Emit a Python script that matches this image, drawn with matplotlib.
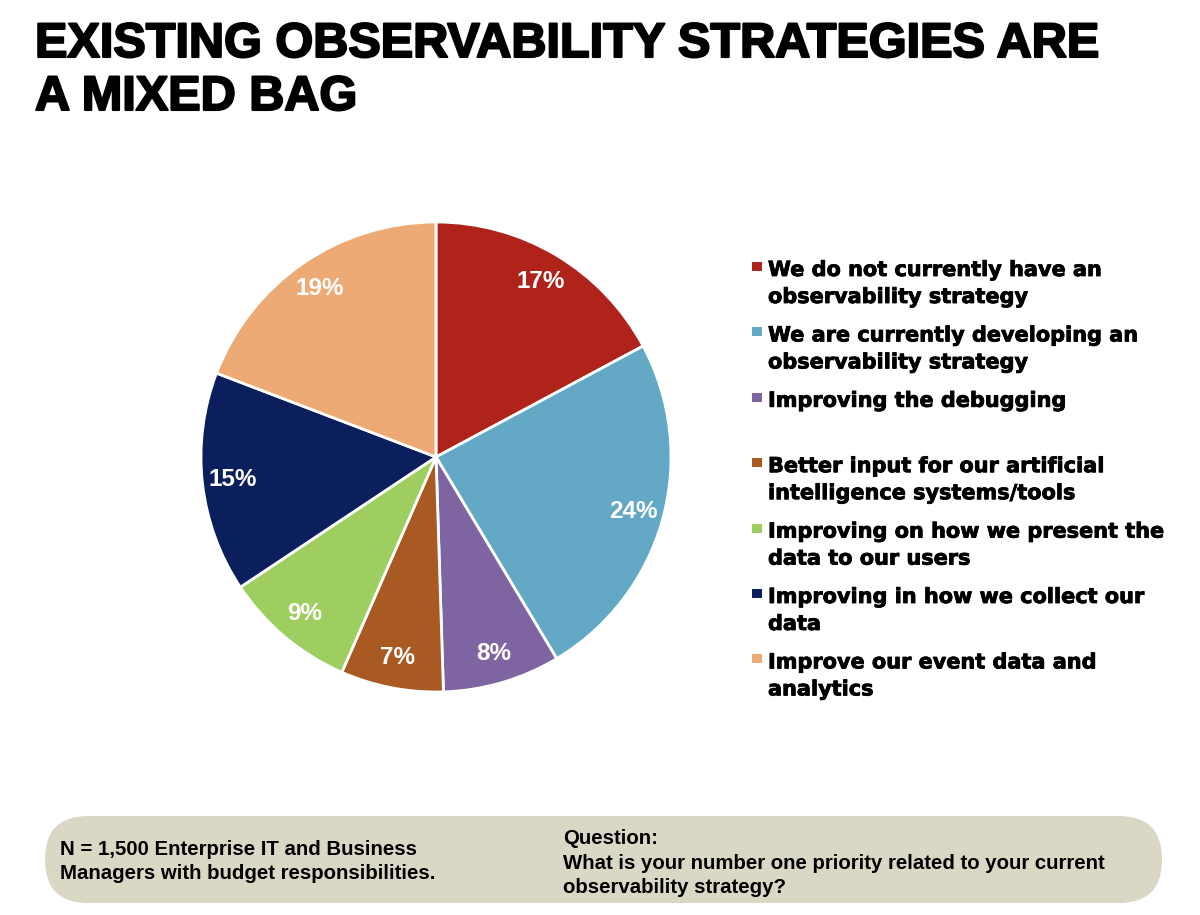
import matplotlib
matplotlib.use("Agg")
import matplotlib.pyplot as plt
from matplotlib.patches import FancyBboxPatch, Rectangle
import matplotlib.patheffects as pe

plt.rcParams["font.family"] = ["Liberation Sans", "DejaVu Sans"]

# 数据
categories = [
    "We do not currently have an\nobservability strategy",
    "We are currently developing an\nobservability strategy",
    "Improving the debugging",
    "Better input for our artificial\nintelligence systems/tools",
    "Improving on how we present the\ndata to our users",
    "Improving in how we collect our\ndata",
    "Improve our event data and\nanalytics",
]
values = [17, 24, 8, 7, 9, 15, 19]
colors = ["#B0231A", "#63A9C5", "#7E64A0", "#A85A22", "#9ECE5F", "#0B1F5C", "#EDAA75"]

title = "EXISTING OBSERVABILITY STRATEGIES ARE\nA MIXED BAG"
note_left = ["N = 1,500 Enterprise IT and Business",
             "Managers with budget responsibilities."]
note_right = ["Question:",
              "What is your number one priority related to your current",
              "observability strategy?"]

W, H = 1200, 915
fig = plt.figure(figsize=(W / 100, H / 100), dpi=100)
fig.patch.set_facecolor("white")


def fy(px):
    # 像素(从上往下) -> figure 坐标
    return 1 - px / H


# 标题
for i, line in enumerate(title.split("\n")):
    fig.text(35 / W, fy(57 + 53 * i), line, fontsize=35, fontweight="bold",
             color="black", va="baseline", ha="left",
             path_effects=[pe.withStroke(linewidth=1.5, foreground="black")])

# 饼图
cx, cy, r = 436, 457, 235
ax = fig.add_axes([(cx - r) / W, (H - cy - r) / H, 2 * r / W, 2 * r / H])
wedges, _, autotexts = ax.pie(
    values, colors=colors, startangle=90, counterclock=False,
    autopct=lambda p: f"{p:.0f}%", pctdistance=0.87,
    wedgeprops=dict(edgecolor="white", linewidth=2),
    textprops=dict(color="white", fontsize=17.5, fontweight="bold"),
)
ax.set_xlim(-1, 1)
ax.set_ylim(-1, 1)
ax.set_aspect("equal")
ax.axis("off")

# 图例（手动排版）
for i, (lab, col) in enumerate(zip(categories, colors)):
    base = 276 + 65.4 * i
    fig.add_artist(Rectangle((752 / W, fy(base - 5)), 10 / W, 9 / H,
                             transform=fig.transFigure, facecolor=col,
                             edgecolor="none"))
    for j, line in enumerate(lab.split("\n")):
        fig.text(768 / W, fy(base + 27 * j), line, fontsize=15,
                 fontweight="bold", family=["DejaVu Sans"],
                 va="baseline", ha="left", color="black",
                 path_effects=[pe.withStroke(linewidth=0.6, foreground="black")])

# 底部说明框
box = FancyBboxPatch((0.45, 0.12), 11.17, 0.87,
                     boxstyle="round,pad=0,rounding_size=0.43",
                     transform=fig.dpi_scale_trans,
                     facecolor="#DAD7C5", edgecolor="none")
fig.add_artist(box)

for j, line in enumerate(note_left):
    fig.text(60 / W, fy(855 + 24 * j), line, fontsize=14.7,
             fontweight="bold", va="baseline", ha="left", color="black")
for j, line in enumerate(note_right):
    fig.text(563 / W, fy(844 + 24.7 * j), line, fontsize=14.7,
             fontweight="bold", va="baseline", ha="left", color="black")

fig.savefig("out.png", dpi=100)
